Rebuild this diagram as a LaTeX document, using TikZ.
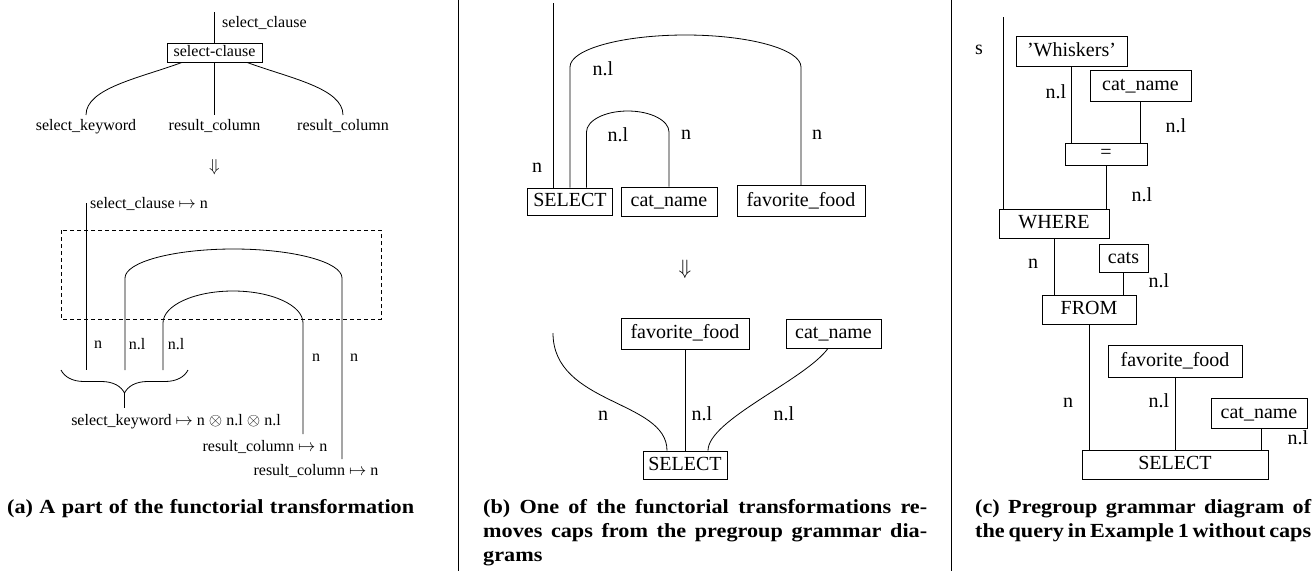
\documentclass[tikz,border=0pt]{standalone}
\usepackage{fontspec}
\setmainfont{Liberation Serif}
\newfontfamily\capfont[FakeStretch=1.11]{Liberation Serif}
\usetikzlibrary{decorations.pathreplacing}
\newcommand\fa{\fontsize{16}{19}\selectfont}
\newcommand\fb{\fontsize{20}{24}\selectfont}
\newcommand\fcap{\capfont\bfseries\fontsize{20}{24}\selectfont}
\tikzset{
  wire/.style={line width=0.8pt},
  abox/.style={draw, line width=0.8pt, inner sep=0pt, font=\fa, text height=11.5pt, text depth=3.5pt},
  bbox/.style={draw, line width=0.8pt, inner sep=0pt, font=\fb, text height=14pt, text depth=4pt},
  albl/.style={inner sep=0pt, font=\fa, text height=11pt, text depth=4pt},
  blbl/.style={inner sep=0pt, font=\fb, text height=14pt, text depth=5pt},
  capt/.style={anchor=base west, inner sep=0pt, font=\fcap},
  sep/.style={line width=0.8pt}
}
\begin{document}
\begin{tikzpicture}[x=1pt,y=-1pt]
\useasboundingbox (0,0) rectangle (1314,571);
% separators
\coordinate (s1t) at (458,0); \coordinate (s1b) at (458,571);
\coordinate (s2t) at (951,0); \coordinate (s2b) at (951,571);
\draw[sep] (s1t) -- (s1b);
\draw[sep] (s2t) -- (s2b);

% ---------------- panel (a) ----------------
\node[abox, minimum width=95pt, minimum height=19pt] (sc) at (214.5,52.5) {select-clause};
\coordinate (sct) at (214.5,12);
\draw[wire] (sct) -- (sc.north);
\node[albl, anchor=west] (lsc) at (222,24) {select\_clause};
\coordinate (kwt) at (86,115);
\coordinate (rc1t) at (214.5,115);
\coordinate (rc2t) at (343,115);
\draw[wire] ([xshift=-32.5pt]sc.south) .. controls (140,78) and (86,88) .. (kwt);
\draw[wire] (sc.south) -- (rc1t);
\draw[wire] ([xshift=32.5pt]sc.south) .. controls (289,78) and (343,88) .. (rc2t);
\node[albl] (lkw) at (86,127) {select\_keyword};
\node[albl] (lrc1) at (214.5,127) {result\_column};
\node[albl] (lrc2) at (343,127) {result\_column};
\node[inner sep=0pt, font=\fa] (darr1) at (214.5,167) {$\Downarrow$};

\coordinate (a1t) at (86,203); \coordinate (a1b) at (86,370);
\draw[wire] (a1t) -- (a1b);
\node[albl, anchor=west] (lscn) at (90,205) {select\_clause $\mapsto$ n};
\draw[wire, dash pattern=on 4pt off 3pt] (61,230) rectangle (381,319);
% outer cap
\coordinate (oL) at (125,370); \coordinate (oR) at (342,459);
\draw[wire] (oL) -- (125,278) .. controls (125,262) and (173.6,249) .. (233.5,249)
  .. controls (293.4,249) and (342,262) .. (342,278) -- (oR);
% inner cap
\coordinate (iL) at (163,370); \coordinate (iR) at (303,434);
\draw[wire] (iL) -- (163,323) .. controls (163,305.3) and (194.4,291) .. (233,291)
  .. controls (271.6,291) and (303,305.3) .. (303,323) -- (iR);
\node[albl] (ln1) at (98,345) {n};
\node[albl] (lnl1) at (137,346) {n.l};
\node[albl] (lnl2) at (176,346) {n.l};
\node[albl] (ln2) at (316,358) {n};
\node[albl] (ln3) at (354,358) {n};
% brace
\coordinate (brL) at (61,370); \coordinate (brR) at (188,370);
\draw[wire, decorate, decoration={brace, mirror, amplitude=23pt}] (brL) -- (brR);
\coordinate (brt) at (124.5,393); \coordinate (brb) at (124.5,408);
\draw[wire] (brt) -- (brb);
\node[albl] (lskm) at (176,422) {select\_keyword $\mapsto$ n $\otimes$ n.l $\otimes$ n.l};
\node[albl] (lrcm1) at (265,448) {result\_column $\mapsto$ n};
\node[albl] (lrcm2) at (316,472) {result\_column $\mapsto$ n};

% ---------------- panel (b) ----------------
\node[bbox, minimum width=85pt, minimum height=27pt] (selb) at (570,201.5) {SELECT};
\node[bbox, minimum width=96pt, minimum height=29pt] (catb) at (669,201.5) {cat\_name};
\node[bbox, minimum width=128pt, minimum height=31pt] (favb) at (801,201) {favorite\_food};
\coordinate (bft) at (553.5,3);
\draw[wire] (bft) -- (bft |- selb.north);
\draw[wire] (selb.north) -- (570,67) .. controls (570,49.3) and (621.7,35) .. (685.5,35)
  .. controls (749.3,35) and (801,49.3) .. (801,67) -- (favb.north);
\draw[wire] ([xshift=16.5pt]selb.north) -- (586.5,132) .. controls (586.5,120.4) and (605,111) .. (627.75,111)
  .. controls (650.5,111) and (669,120.4) .. (669,132) -- (catb.north);
\node[blbl] (bn1) at (537,168) {n};
\node[blbl] (bnl1) at (603,71) {n.l};
\node[blbl] (bnl2) at (618,137) {n.l};
\node[blbl] (bn2) at (686,135) {n};
\node[blbl] (bn3) at (817,135) {n};

\node[inner sep=0pt, font=\fb] (darr2) at (685,269) {$\Downarrow$};

\node[bbox, minimum width=128pt, minimum height=31pt] (favb2) at (685,333.5) {favorite\_food};
\node[bbox, minimum width=95pt, minimum height=29pt] (catb2) at (833.5,333.5) {cat\_name};
\node[bbox, minimum width=84pt, minimum height=28pt] (selb2) at (685,465) {SELECT};
\coordinate (lf) at (553,333);
\draw[wire] (lf) .. controls (553,405) and (667,400) .. ([xshift=-18pt]selb2.north);
\draw[wire] (favb2.south) -- (selb2.north);
\draw[wire] ([xshift=-5.5pt]catb2.south) .. controls (805,380) and (708,420) .. ([xshift=23pt]selb2.north);
\node[blbl] (bn4) at (603,416) {n};
\node[blbl] (bnl3) at (702,416) {n.l};
\node[blbl] (bnl4) at (784,416) {n.l};

% ---------------- panel (c) ----------------
\node[blbl] (cs) at (979,50) {s};
\node[bbox, minimum width=111pt, minimum height=30pt] (wh) at (1071.5,51) {'Whiskers'};
\node[bbox, minimum width=101pt, minimum height=31pt] (cn) at (1140.5,85.5) {cat\_name};
\node[bbox, minimum width=82pt, minimum height=22pt, text height=11pt, text depth=3pt] (eq) at (1106,154) {=};
\node[bbox, minimum width=110pt, minimum height=29pt] (wr) at (1054,223.5) {WHERE};
\node[bbox, minimum width=49pt, minimum height=28pt] (cats) at (1123.5,258) {cats};
\node[bbox, minimum width=94pt, minimum height=29pt] (from) at (1089,309.5) {FROM};
\node[bbox, minimum width=134pt, minimum height=32pt] (ffc) at (1175,361) {favorite\_food};
\node[bbox, minimum width=96pt, minimum height=30pt] (cnc) at (1259,413) {cat\_name};
\node[bbox, minimum width=186pt, minimum height=29pt] (selc) at (1175,464.5) {SELECT};
\coordinate (st) at (1003,17);
\draw[wire] (st) -- (st |- wr.north);
\draw[wire] (wh.south) -- (wh.south |- eq.north);
\draw[wire] (cn.south) -- (cn.south |- eq.north);
\draw[wire] (eq.south) -- (eq.south |- wr.north);
\draw[wire] (wr.south) -- (wr.south |- from.north);
\draw[wire] (cats.south) -- (cats.south |- from.north);
\draw[wire] (from.south) -- (from.south |- selc.north);
\draw[wire] (ffc.south) -- (ffc.south |- selc.north);
\draw[wire] ([xshift=2pt]cnc.south) -- ([xshift=2pt]cnc.south |- selc.north);
\node[blbl] (cnl1) at (1056,94) {n.l};
\node[blbl] (cnl2) at (1176,128) {n.l};
\node[blbl] (cnl3) at (1142,197) {n.l};
\node[blbl] (cn1) at (1033,264) {n};
\node[blbl] (cnl4) at (1159,283) {n.l};
\node[blbl] (cn2) at (1068,403) {n};
\node[blbl] (cnl5) at (1159,403) {n.l};
\node[blbl] (cnl6) at (1298,440) {n.l};

% ---------------- captions ----------------
\node[capt] (capa) at (7,513) {\makebox[407pt][s]{(a) A part of the functorial transformation}};
\node[capt] (capb1) at (483,513) {\makebox[444pt][s]{(b) One of the functorial transformations re-}};
\node[capt] (capb2) at (483,537) {\makebox[444pt][s]{moves caps from the pregroup grammar dia-}};
\node[capt] (capb3) at (483,561) {grams};
\node[capt] (capc1) at (975,513) {\makebox[336pt][s]{(c) Pregroup grammar diagram of}};
\node[capt] (capc2) at (975,537) {\makebox[336pt][s]{the query in Example 1 without caps}};
\end{tikzpicture}
\end{document}
